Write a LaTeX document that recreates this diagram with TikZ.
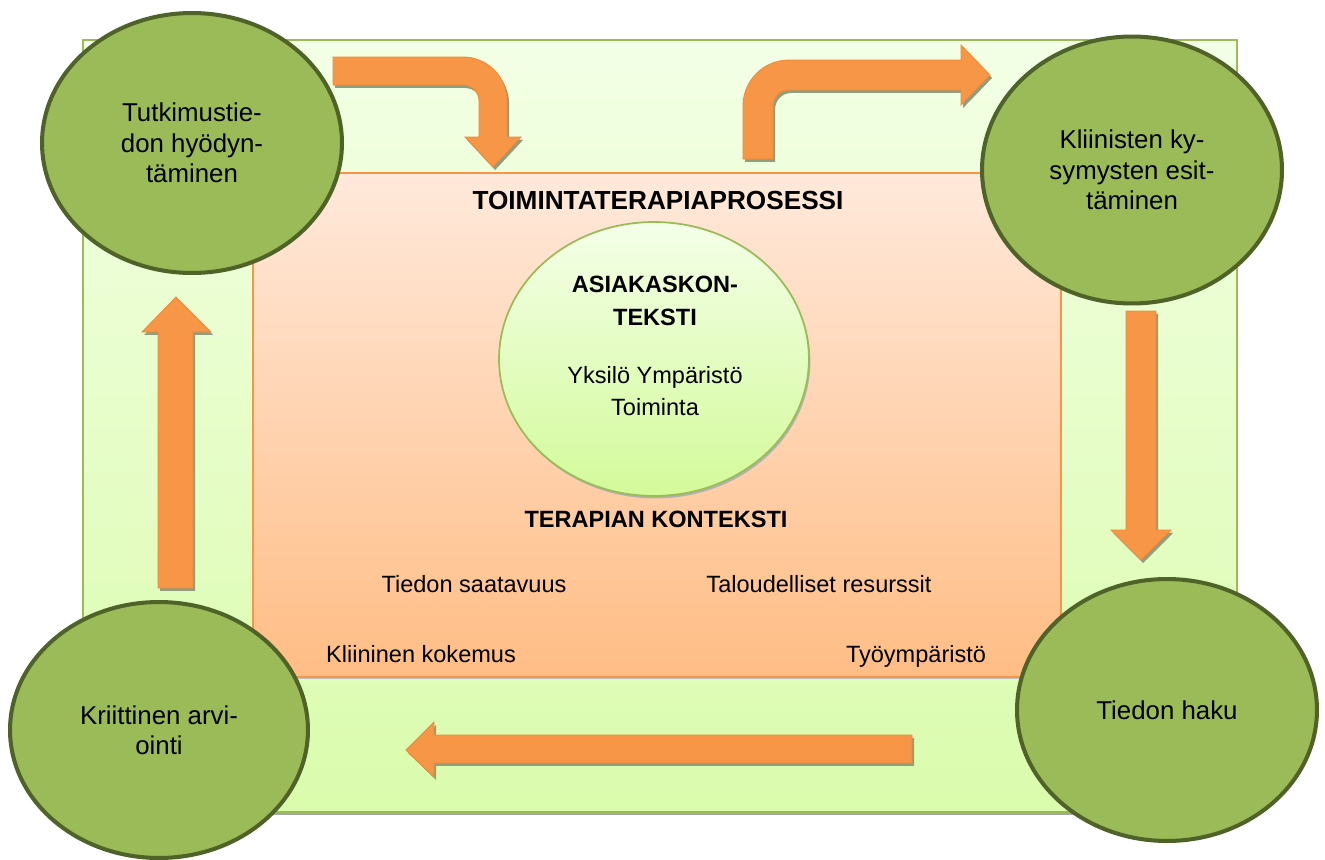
\documentclass[tikz,border=0pt]{standalone}
\usepackage{fontspec}
\setmainfont{Liberation Sans}
\usetikzlibrary{shapes.geometric}
\definecolor{cGreen}{HTML}{9BBB59}
\definecolor{cDark}{HTML}{4F6228}
\definecolor{cOrange}{HTML}{F79646}
\definecolor{cOrangeEdge}{HTML}{F08A36}
\definecolor{cShadow}{HTML}{8E9E7E}
\definecolor{cOutTop}{HTML}{F3FFE6}
\definecolor{cOutBot}{HTML}{DAFCAC}
\definecolor{cInTop}{HTML}{FFE9DB}
\definecolor{cInBot}{HTML}{FFBD85}
\definecolor{cMidTop}{HTML}{F4FFE8}
\definecolor{cMidBot}{HTML}{D3FA9A}
\begin{document}
\begin{tikzpicture}[x=0.02cm,y=-0.02cm,
  stage/.style={ellipse, draw=cDark, line width=2.3pt, fill=cGreen, inner sep=0pt,
    align=center, font=\fontsize{14.7}{17.3}\selectfont},
  blockarrow/.style={fill=cOrange, draw=cOrangeEdge, line width=0.5pt,
    preaction={fill=cShadow, transform canvas={xshift=1.2pt,yshift=-1.7pt}}},
  lbl/.style={font=\fontsize{13.4}{17.6}\selectfont, anchor=base, inner sep=0pt},
  blbl/.style={lbl, font=\fontsize{13.4}{17.6}\selectfont\bfseries},
  boxshadow/.style={preaction={fill=black!35, transform canvas={yshift=-1.6pt}}}
]
\useasboundingbox (0,0) rectangle (1325,859);

% outer frame
\draw[boxshadow, draw=cGreen, line width=1.2pt, top color=cOutTop, bottom color=cOutBot]
  (83,40) rectangle (1237,812);
% inner frame
\draw[preaction={fill=black!25, transform canvas={yshift=-1.2pt}},
  draw=cOrange, line width=1.2pt, top color=cInTop, bottom color=cInBot]
  (253,173) rectangle (1061,677);

% bent arrow: right then down
\path[blockarrow] (333,57) -- (463,57)
  .. controls (487.3,57) and (507,76.7) .. (507,101)
  -- (507,137) -- (521,137) -- (493,167) -- (465,137) -- (479,137) -- (479,101)
  .. controls (479,92.2) and (471.8,85) .. (463,85) -- (333,85) -- cycle;
% bent arrow: up then right
\path[blockarrow] (743,159) -- (743,106)
  .. controls (743,80.6) and (763.6,60) .. (789,60)
  -- (961,60) -- (961,45) -- (990,75) -- (961,105) -- (961,90) -- (789,90)
  .. controls (780.2,90) and (773,97.2) .. (773,106) -- (773,159) -- cycle;
% down arrow (right side)
\path[blockarrow] (1126,311) -- (1156,311) -- (1156,530) -- (1171,530) -- (1141,560)
  -- (1111,530) -- (1126,530) -- cycle;
% left arrow (bottom)
\path[blockarrow] (912,735) -- (912,763) -- (434,763) -- (434,777) -- (406,750)
  -- (434,722) -- (434,735) -- cycle;
% up arrow (left side)
\path[blockarrow] (158,588) -- (158,332) -- (142,332) -- (176,297) -- (211,332)
  -- (193,332) -- (193,588) -- cycle;

% central ellipse
\node[ellipse, minimum width=6.2cm, minimum height=5.48cm, inner sep=0pt,
  draw=cGreen, line width=1pt, top color=cMidTop, bottom color=cMidBot,
  preaction={fill=black!30, transform canvas={xshift=0.8pt,yshift=-1.4pt}}]
  (client) at (654,359) {};

% texts
\node[blbl, font=\fontsize{14.9}{17.6}\selectfont\bfseries] (process) at (658,209) {TOIMINTATERAPIAPROSESSI};
\node[blbl] (asiak1) at (655,292) {ASIAKASKON-};
\node[blbl] (asiak2) at (655,325) {TEKSTI};
\node[lbl] (yks) at (655,383) {Yksilö Ympäristö};
\node[lbl] (toim) at (655,415) {Toiminta};
\node[blbl] (terapia) at (656,527) {TERAPIAN KONTEKSTI};
\node[lbl] (saat) at (474,592) {Tiedon saatavuus};
\node[lbl] (talous) at (819,592) {Taloudelliset resurssit};
\node[lbl] (kokemus) at (421,662) {Kliininen kokemus};
\node[lbl] (tyo) at (916,662) {Työympäristö};

% stage circles
\node[stage, minimum width=6cm, minimum height=5.2cm] (tutkimus) at (192,143)
  {Tutkimustie-\\don hyödyn-\\täminen};
\node[stage, minimum width=6cm, minimum height=5.34cm] (kysymys) at (1132,170)
  {Kliinisten ky-\\symysten esit-\\täminen};
\node[stage, minimum width=5.96cm, minimum height=5.12cm] (arvio) at (159,730)
  {Kriittinen arvi-\\ointi};
\node[stage, minimum width=6cm, minimum height=5.24cm] (haku) at (1167,710)
  {Tiedon haku};
\end{tikzpicture}
\end{document}
